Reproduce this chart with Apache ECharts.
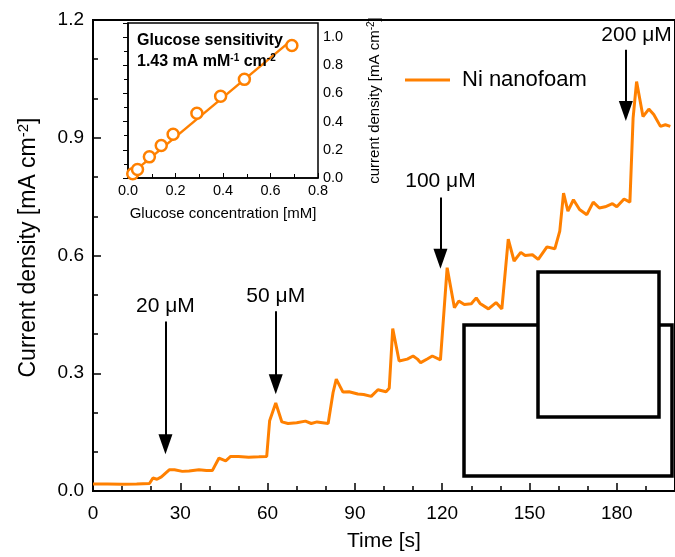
<!DOCTYPE html>
<html>
<head>
<meta charset="utf-8">
<title>Ni nanofoam glucose response</title>
<script src="https://cdn.jsdelivr.net/npm/echarts@6.0.0/dist/echarts.min.js"></script>
<style>
  html, body { margin: 0; padding: 0; background: #fff; }
  #chart { width: 675px; height: 557px; }
</style>
</head>
<body>
<div id="chart"></div>
<script>
  // amperometric trace
  var timeS = [0, 5, 10, 15, 19.4, 20.6, 22, 23.5, 26.2, 28, 30.7, 33, 36.4, 39, 41,
    43.3, 45.6, 47.3, 50, 53.5, 57, 59.7, 60.7, 62.8, 64.9, 67, 70, 73, 75, 77, 80.8,
    82.5, 83.6, 85.9, 88, 91, 93, 95.6, 97.9, 100.7, 101.8, 103, 105.2, 108, 110, 111.5,
    112.6, 115, 116.6, 119.4, 121.7, 124.2, 125.7, 127.6, 130, 131.7, 133, 135.9, 138.5,
    140.5, 142.7, 144.7, 147, 148.5, 151, 153, 156, 158.7, 160.4, 161.7, 163.2, 165.1,
    167.2, 169.7, 171.9, 174, 176, 178.5, 180, 182.5, 184.5, 185.6, 186.8, 189, 191,
    192.7, 195, 196.7, 198.4];
  var currentMain = [0.018, 0.018, 0.017, 0.018, 0.019, 0.033, 0.030, 0.036, 0.054, 0.054,
    0.050, 0.051, 0.054, 0.052, 0.052, 0.084, 0.077, 0.088, 0.088, 0.086, 0.087, 0.088,
    0.179, 0.224, 0.176, 0.172, 0.174, 0.178, 0.172, 0.176, 0.172, 0.251, 0.285, 0.252,
    0.253, 0.247, 0.246, 0.241, 0.258, 0.253, 0.262, 0.414, 0.331, 0.336, 0.344, 0.336,
    0.327, 0.337, 0.344, 0.334, 0.569, 0.467, 0.484, 0.475, 0.477, 0.492, 0.478, 0.464,
    0.480, 0.464, 0.642, 0.586, 0.608, 0.600, 0.602, 0.590, 0.622, 0.617, 0.662, 0.759,
    0.713, 0.742, 0.717, 0.704, 0.736, 0.721, 0.724, 0.732, 0.724, 0.744, 0.736, 0.95,
    1.043, 0.954, 0.973, 0.959, 0.929, 0.933, 0.929];

  // inset: calibration points and linear fit
  var glucoseMM = [0.02, 0.04, 0.09, 0.14, 0.19, 0.29, 0.39, 0.49, 0.69];
  var densityInset = [0.03, 0.06, 0.15, 0.23, 0.31, 0.46, 0.58, 0.70, 0.94];
  var fitX = [0, 0.69];
  var fitY = [0.01, 0.98];

  // glucose additions: arrow time, arrow top, arrow head centre, label position
  var addLabels = ['20 μM', '50 μM', '100 μM', '200 μM'];
  var addTime = [24.9, 62.8, 119.4, 183.1];
  var arrowTop = [0.432, 0.458, 0.748, 1.124];
  var arrowEnd = [0.119, 0.272, 0.592, 0.968];
  var labelTime = [24.9, 62.8, 119.4, 186.8];
  var labelY = [0.47, 0.496, 0.79, 1.16];

  var ORANGE = '#ff8000';
  var FONT = 'Liberation Sans, Arial, sans-serif';

  var chart = echarts.init(document.getElementById('chart'));

  var arrows = addTime.map(function (t, i) {
    return [{coord: [t, arrowTop[i]]}, {coord: [t, arrowEnd[i]]}];
  });
  var labelPts = labelTime.map(function (t, i) { return [t, labelY[i]]; });

  chart.setOption({
    animation: false,
    backgroundColor: '#fff',
    textStyle: {fontFamily: FONT},
    legend: {
      data: ['Ni nanofoam'],
      icon: 'rect',
      left: 400,
      top: 64,
      itemWidth: 45,
      itemHeight: 3,
      textStyle: {fontSize: 22, color: '#000', fontFamily: FONT, padding: [0, 0, 0, 7]},
    },
    grid: [
      {
        left: 93, top: 20, right: -5, bottom: 65,
        show: true, borderColor: '#000', borderWidth: 2,
      },
      {
        left: 128, top: 23, right: 357, bottom: 379,
        show: true, borderColor: '#000', borderWidth: 1.5, backgroundColor: '#fff', z: 5,
      }],
    xAxis: [
      {
        type: 'value',
        gridIndex: 0,
        min: 0, max: 200, interval: 30,
        name: 'Time [s]',
        nameLocation: 'middle',
        nameGap: 40,
        nameTextStyle: {fontSize: 21, color: '#000', fontFamily: FONT},
        axisLine: {lineStyle: {color: '#000', width: 2}},
        axisTick: {inside: true, length: 8, lineStyle: {color: '#000', width: 1.5}},
        minorTick: {show: true, splitNumber: 3, length: 5, lineStyle: {color: '#000', width: 1.5}},
        axisLabel: {fontSize: 19, color: '#000', margin: 13, showMaxLabel: false, fontFamily: FONT},
        splitLine: {show: false},
      },
      {
        type: 'value',
        gridIndex: 1,
        min: 0, max: 0.8, interval: 0.2,
        name: 'Glucose concentration [mM]',
        nameLocation: 'middle',
        nameGap: 28,
        nameTextStyle: {fontSize: 15, color: '#000', fontFamily: FONT},
        axisLine: {lineStyle: {color: '#000', width: 1.5}},
        axisTick: {inside: true, length: 5, lineStyle: {color: '#000'}},
        minorTick: {show: true, splitNumber: 2, length: 4, lineStyle: {color: '#000'}},
        axisLabel: {fontSize: 14.5, color: '#000', margin: 5, fontFamily: FONT,
          formatter: function (v) { return v.toFixed(1); }},
        splitLine: {show: false},
        z: 6,
      }],
    yAxis: [
      {
        type: 'value',
        gridIndex: 0,
        min: 0, max: 1.2, interval: 0.3,
        name: 'Current density [mA cm{sup|-2}]',
        nameLocation: 'middle',
        nameRotate: 90,
        nameGap: 51,
        nameTextStyle: {
          fontSize: 23, color: '#000', fontFamily: FONT,
          padding: [0, 0, 0, 16],
          rich: {sup: {fontSize: 15, color: '#000', verticalAlign: 'top', padding: [0, 0, 11, 0]}},
        },
        axisLine: {lineStyle: {color: '#000', width: 2}},
        axisTick: {inside: true, length: 8, lineStyle: {color: '#000', width: 1.5}},
        minorTick: {show: true, splitNumber: 3, length: 5, lineStyle: {color: '#000', width: 1.5}},
        axisLabel: {fontSize: 19, color: '#000', margin: 9, fontFamily: FONT,
          formatter: function (v) { return v.toFixed(1); }},
        splitLine: {show: false},
      },
      {
        type: 'value',
        gridIndex: 1,
        position: 'right',
        min: 0, max: 1.1, interval: 0.2,
        name: 'current density [mA cm{sup|-2}]',
        nameLocation: 'middle',
        nameRotate: 90,
        nameGap: 48,
        nameTextStyle: {
          fontSize: 15, color: '#000', fontFamily: FONT,
          rich: {sup: {fontSize: 10, color: '#000', verticalAlign: 'top', padding: [0, 0, 8, 0]}},
        },
        axisLine: {lineStyle: {color: '#000', width: 1.5}},
        axisTick: {inside: true, length: 5, lineStyle: {color: '#000'}},
        minorTick: {show: true, splitNumber: 2, length: 4, lineStyle: {color: '#000'}},
        axisLabel: {fontSize: 14.5, color: '#000', margin: 5, showMaxLabel: false, fontFamily: FONT,
          formatter: function (v) { return v.toFixed(1); }},
        splitLine: {show: false},
        z: 6,
      }],
    series: [
      {
        name: 'Ni nanofoam',
        type: 'line',
        xAxisIndex: 0,
        yAxisIndex: 0,
        symbol: 'none',
        data: timeS.map(function (t, i) { return [t, currentMain[i]]; }),
        lineStyle: {color: ORANGE, width: 3},
        itemStyle: {color: ORANGE},
        markLine: {
          silent: true,
          symbol: ['none', 'triangle'],
          symbolSize: [14, 20],
          symbolRotate: 180,
          label: {show: false},
          lineStyle: {color: '#000', width: 2, type: 'solid'},
          itemStyle: {color: '#000'},
          data: arrows,
        },
      },
      {
        name: 'additions',
        type: 'scatter',
        xAxisIndex: 0,
        yAxisIndex: 0,
        symbolSize: 0,
        data: labelPts,
        itemStyle: {opacity: 1},
        label: {
          show: true,
          position: 'inside',
          fontSize: 21,
          color: '#000',
          fontFamily: FONT,
          formatter: function (p) { return addLabels[p.dataIndex]; },
        },
      },
      {
        name: 'fit',
        type: 'line',
        xAxisIndex: 1,
        yAxisIndex: 1,
        symbol: 'none',
        data: fitX.map(function (x, i) { return [x, fitY[i]]; }),
        lineStyle: {color: ORANGE, width: 2.5},
        z: 7,
      },
      {
        name: 'calibration',
        type: 'scatter',
        xAxisIndex: 1,
        yAxisIndex: 1,
        symbol: 'circle',
        symbolSize: 11,
        data: glucoseMM.map(function (x, i) { return [x, densityInset[i]]; }),
        itemStyle: {color: '#fff', borderColor: ORANGE, borderWidth: 2.5, opacity: 1},
        z: 8,
      }],
    graphic: [
      {
        type: 'text', left: 137, top: 33, z: 20,
        style: {text: 'Glucose sensitivity', fontSize: 16, fontWeight: 'bold', fill: '#000', fontFamily: FONT},
      },
      {
        type: 'text', left: 137, top: 53, z: 20,
        style: {
          text: '1.43 mA mM{sup|-1} cm{sup|-2}', fontSize: 16, fontWeight: 'bold', fill: '#000', fontFamily: FONT,
          rich: {sup: {fontSize: 10, fontWeight: 'bold', verticalAlign: 'top', padding: [0, 0, 8, 0]}},
        },
      },
      {
        type: 'rect', z: 20,
        shape: {x: 464, y: 325, width: 208, height: 151},
        style: {fill: '#fff', stroke: '#000', lineWidth: 3.5},
      },
      {
        type: 'rect', z: 21,
        shape: {x: 538, y: 272, width: 121, height: 145},
        style: {fill: '#fff', stroke: '#000', lineWidth: 3.5},
      }],
  });
</script>
</body>
</html>
